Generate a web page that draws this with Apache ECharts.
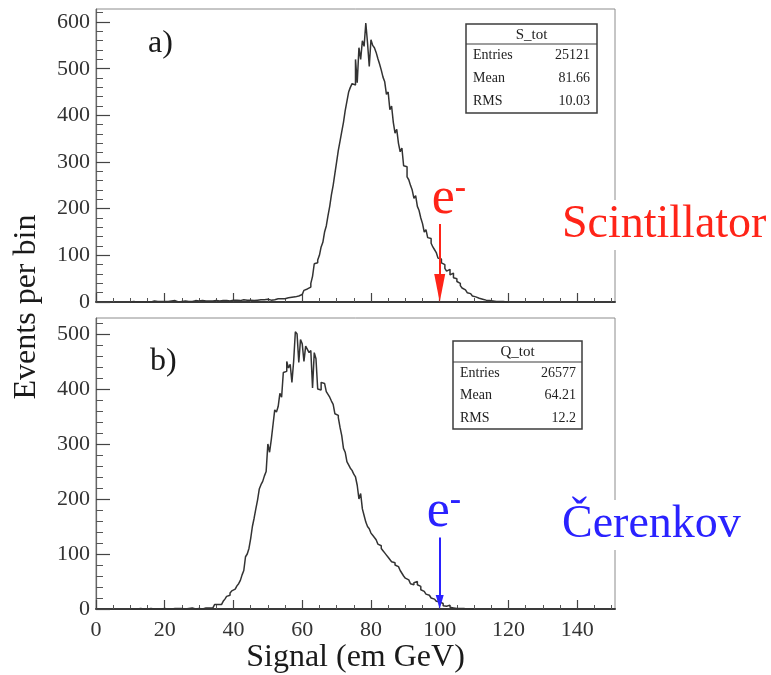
<!DOCTYPE html>
<html>
<head>
<meta charset="utf-8">
<script src="https://cdn.jsdelivr.net/npm/echarts@6/dist/echarts.min.js"></script>
<style>
  html, body { margin: 0; padding: 0; background: #ffffff; }
  #chart { width: 771px; height: 675px; }
</style>
</head>
<body>
<div id="chart"></div>
<script>
// Histogram binning (em GeV)
const BIN_WIDTH = 0.5;

// a) Scintillator signal S_tot, counts per 0.5 GeV bin starting at S_TOT_START
const S_TOT_START = 10;
const S_TOT_COUNTS = [
  0, 1, 0, 0, 1, 0, 2, 0, 1, 0,
  1, 0, 1, 2, 0, 1, 0, 1, 2, 1,
  2, 1, 0, 2, 1, 3, 1, 0, 2, 1,
  1, 2, 3, 1, 2, 1, 2, 3, 1, 2,
  2, 3, 1, 2, 4, 2, 3, 2, 1, 3,
  3, 2, 4, 3, 2, 3, 4, 2, 3, 4,
  3, 4, 2, 3, 4, 5, 3, 4, 2, 4,
  4, 3, 5, 4, 3, 5, 4, 5, 4, 6,
  5, 4, 6, 5, 6, 7, 6, 7, 8, 7,
  8, 9, 8, 10, 9, 11, 12, 13, 14, 16,
  20, 25, 28, 30, 32, 40, 55, 82, 84, 90,
  100, 118, 128, 150, 163, 185, 205, 230, 250, 275,
  300, 325, 345, 365, 385, 410, 430, 450, 460, 468,
  465, 520, 470, 545, 520, 560, 548, 598, 555, 505,
  562, 550, 545, 535, 522, 510, 497, 482, 472, 445,
  450, 412, 420, 385, 362, 370, 340, 322, 330, 292,
  290, 268, 262, 250, 240, 222, 228, 205, 196, 180,
  168, 150, 155, 138, 136, 126, 118, 112, 106, 94,
  92, 84, 80, 72, 66, 70, 58, 62, 52, 50,
  44, 40, 35, 30, 26, 22, 20, 18, 15, 13,
  11, 10, 8, 7, 6, 5, 4, 4, 3, 3,
  2, 2, 1, 1, 1, 0, 1, 0, 0, 0
];

// b) Cerenkov signal Q_tot, counts per 0.5 GeV bin starting at Q_TOT_START
const Q_TOT_START = 10;
const Q_TOT_COUNTS = [
  0, 0, 1, 0, 0, 1, 0, 0, 1, 0,
  0, 1, 0, 0, 1, 0, 1, 0, 2, 1,
  3, 0, 1, 0, 1, 1, 0, 1, 0, 1,
  1, 0, 1, 1, 0, 2, 1, 0, 1, 1,
  1, 0, 1, 2, 1, 2, 3, 2, 4, 8,
  8, 7, 8, 10, 14, 18, 23, 25, 29, 33,
  36, 38, 42, 46, 52, 62, 70, 95, 100, 110,
  128, 150, 165, 182, 198, 218, 226, 232, 242, 250,
  300, 285, 308, 335, 362, 358, 368, 392, 385, 430,
  432, 450, 438, 445, 412, 450, 504, 500, 448, 490,
  482, 450, 478, 472, 466, 470, 402, 466, 455, 400,
  398, 412, 410, 408, 395, 390, 385, 378, 372, 355,
  352, 348, 330, 315, 292, 285, 268, 262, 256, 252,
  245, 240, 225, 200, 210, 182, 170, 158, 150, 146,
  138, 134, 130, 126, 118, 115, 110, 106, 102, 98,
  94, 90, 86, 84, 80, 77, 74, 70, 65, 60,
  56, 53, 50, 46, 44, 48, 50, 44, 41, 35,
  32, 30, 27, 25, 22, 20, 18, 16, 14, 13,
  11, 10, 6, 5, 8, 7, 3, 2, 2, 1,
  1, 1, 0, 1, 0, 0, 0, 0, 0, 0
];

// Axis ranges and ticks
const X_RANGE = [0, 151];
const X_MAJOR_TICKS = [0, 20, 40, 60, 80, 100, 120, 140];
const X_MINOR_TICKS = [5, 10, 15, 25, 30, 35, 45, 50, 55, 65, 70, 75, 85, 90, 95,
                       105, 110, 115, 125, 130, 135, 145, 150];
const S_Y_RANGE = [0, 628];
const S_Y_MAJOR_TICKS = [0, 100, 200, 300, 400, 500, 600];
const S_Y_MINOR_TICKS = [20, 40, 60, 80, 120, 140, 160, 180, 220, 240, 260, 280, 320, 340,
                         360, 380, 420, 440, 460, 480, 520, 540, 560, 580, 620];
const Q_Y_RANGE = [0, 529];
const Q_Y_MAJOR_TICKS = [0, 100, 200, 300, 400, 500];
const Q_Y_MINOR_TICKS = [20, 40, 60, 80, 120, 140, 160, 180, 220, 240, 260, 280, 320, 340,
                         360, 380, 420, 440, 460, 480, 520];

// Electron beam reference signal, arrow extents (events)
const ELECTRON_SIGNAL = 100;
const S_ARROW_Y = [167, 30];
const Q_ARROW_Y = [130, 12.5];

// Statistics boxes
const S_STATS_TITLE = 'S_tot';
const Q_STATS_TITLE = 'Q_tot';
const STATS_LABELS = ['Entries', 'Mean', 'RMS'];
const S_STATS_VALUES = ['25121', '81.66', '10.03'];
const Q_STATS_VALUES = ['26577', '64.21', '12.2'];

const SERIF = '"Liberation Serif", "Times New Roman", "DejaVu Serif", serif';
const RED = '#ff2418';
const BLUE = '#2a22ff';
const HIST_COLOR = '#333333';

function histogramPoints(start, counts) {
  const pts = counts.map((c, i) => [start + i * BIN_WIDTH, c]);
  pts.push([start + counts.length * BIN_WIDTH, 0]);
  return pts;
}

function xAxes(gridIndex, withLabels) {
  return [
    {
      type: 'value', gridIndex, min: X_RANGE[0], max: X_RANGE[1], position: 'bottom',
      axisLine: { show: true, onZero: false, lineStyle: { color: '#3a3a3a', width: 2 } },
      axisTick: { show: true, inside: true, length: 9, customValues: X_MAJOR_TICKS,
                  lineStyle: { color: '#444', width: 1.2 } },
      axisLabel: { show: withLabels, customValues: X_MAJOR_TICKS, margin: 10,
                   color: '#333', fontSize: 22, fontFamily: SERIF },
      splitLine: { show: false },
      name: withLabels ? 'Signal (em GeV)' : '',
      nameLocation: 'middle', nameGap: 33,
      nameTextStyle: { color: '#1a1a1a', fontSize: 32, fontFamily: SERIF, verticalAlign: 'top' }
    },
    {
      type: 'value', gridIndex, min: X_RANGE[0], max: X_RANGE[1], position: 'bottom',
      axisLine: { show: false, onZero: false },
      axisTick: { show: true, inside: true, length: 4, customValues: X_MINOR_TICKS,
                  lineStyle: { color: '#555', width: 1 } },
      axisLabel: { show: false },
      splitLine: { show: false }
    }
  ];
}

function yAxes(gridIndex, range, major, minor) {
  return [
    {
      type: 'value', gridIndex, min: range[0], max: range[1], position: 'left',
      axisLine: { show: true, onZero: false, lineStyle: { color: '#666', width: 1.2 } },
      axisTick: { show: true, inside: true, length: 14, customValues: major,
                  lineStyle: { color: '#444', width: 1.2 } },
      axisLabel: { show: true, customValues: major, margin: 6,
                   color: '#333', fontSize: 22, fontFamily: SERIF },
      splitLine: { show: false }
    },
    {
      type: 'value', gridIndex, min: range[0], max: range[1], position: 'left',
      axisLine: { show: false, onZero: false },
      axisTick: { show: true, inside: true, length: 7, customValues: minor,
                  lineStyle: { color: '#555', width: 1 } },
      axisLabel: { show: false },
      splitLine: { show: false }
    }
  ];
}

function arrowMarkLine(yRange, color, headSize) {
  return {
    silent: true,
    animation: false,
    symbol: ['none', 'triangle'],
    lineStyle: { color, width: 2, type: 'solid' },
    label: { show: false },
    data: [[
      { coord: [ELECTRON_SIGNAL, yRange[0]], symbol: 'none' },
      { coord: [ELECTRON_SIGNAL, yRange[1]], symbol: 'triangle', symbolSize: headSize }
    ]]
  };
}

function statsBox(x, y, w, h, headerH, title, values, valueRight) {
  const rowH = (h - headerH) / 3;
  const children = [
    { type: 'rect', shape: { x, y, width: w, height: h },
      style: { fill: '#fff', stroke: '#3c3c3c', lineWidth: 1.5 } },
    { type: 'line', shape: { x1: x, y1: y + headerH, x2: x + w, y2: y + headerH },
      style: { stroke: '#3c3c3c', lineWidth: 1.2 } },
    { type: 'text', style: { x: x + w / 2, y: y + headerH / 2 + 1, text: title, align: 'center',
      verticalAlign: 'middle', fill: '#222', font: '15px ' + SERIF } }
  ];
  STATS_LABELS.forEach((lab, i) => {
    const cy = y + headerH + rowH * (i + 0.5);
    children.push({ type: 'text', style: { x: x + 7, y: cy, text: lab, align: 'left',
      verticalAlign: 'middle', fill: '#222', font: '14px ' + SERIF } });
    children.push({ type: 'text', style: { x: valueRight, y: cy, text: values[i], align: 'right',
      verticalAlign: 'middle', fill: '#222', font: '14px ' + SERIF } });
  });
  return { type: 'group', silent: true, children };
}

// "e⁻" label sitting above an arrow top, anchored to the arrow's pixel position
function electronLabel(top, color, dx, dy) {
  const baseline = top[1] - dy;
  return {
    type: 'group', silent: true,
    children: [
      { type: 'text', style: { x: top[0] - dx, y: baseline - 17.5, text: 'e', align: 'left',
        verticalAlign: 'middle', fill: color, font: '52px ' + SERIF } },
      { type: 'text', style: { x: top[0] - dx + 23, y: baseline - 28, text: '-', align: 'left',
        verticalAlign: 'middle', fill: color, font: 'bold 34px ' + SERIF } }
    ]
  };
}

const chart = echarts.init(document.getElementById('chart'), null, { renderer: 'canvas' });

chart.setOption({
  animation: false,
  backgroundColor: '#ffffff',
  grid: [
    { left: 96, top: 9, width: 519, height: 293, show: true, borderColor: '#8c8c8c', borderWidth: 1, containLabel: false },
    { left: 96, top: 318, width: 519, height: 295, show: true, borderColor: '#8c8c8c', borderWidth: 1, containLabel: false }
  ],
  xAxis: [...xAxes(0, false), ...xAxes(1, true)],
  yAxis: [...yAxes(0, S_Y_RANGE, S_Y_MAJOR_TICKS, S_Y_MINOR_TICKS),
          ...yAxes(1, Q_Y_RANGE, Q_Y_MAJOR_TICKS, Q_Y_MINOR_TICKS)],
  series: [
    {
      name: S_STATS_TITLE, type: 'line', xAxisIndex: 0, yAxisIndex: 0,
      step: 'end', showSymbol: false, symbol: 'none', silent: true,
      lineStyle: { color: HIST_COLOR, width: 1.5 },
      data: histogramPoints(S_TOT_START, S_TOT_COUNTS),
      markLine: arrowMarkLine(S_ARROW_Y, RED, [11, 28]),
      z: 3
    },
    {
      name: Q_STATS_TITLE, type: 'line', xAxisIndex: 2, yAxisIndex: 2,
      step: 'end', showSymbol: false, symbol: 'none', silent: true,
      lineStyle: { color: HIST_COLOR, width: 1.5 },
      data: histogramPoints(Q_TOT_START, Q_TOT_COUNTS),
      markLine: arrowMarkLine(Q_ARROW_Y, BLUE, [8, 14]),
      z: 3
    }
  ]
});

const sTop = chart.convertToPixel({ xAxisIndex: 0, yAxisIndex: 0 }, [ELECTRON_SIGNAL, S_ARROW_Y[0]]);
const qTop = chart.convertToPixel({ xAxisIndex: 2, yAxisIndex: 2 }, [ELECTRON_SIGNAL, Q_ARROW_Y[0]]);

chart.setOption({
  graphic: [
    { type: 'text', left: 148, top: 28, silent: true,
      style: { text: 'a)', fill: '#1a1a1a', font: '32px ' + SERIF } },
    { type: 'text', left: 150, top: 346, silent: true,
      style: { text: 'b)', fill: '#1a1a1a', font: '32px ' + SERIF } },
    { type: 'text', silent: true, x: 27, y: 307, rotation: Math.PI / 2,
      style: { text: 'Events per bin', align: 'center', verticalAlign: 'middle',
               fill: '#1a1a1a', font: '32px ' + SERIF } },
    { type: 'text', silent: true, x: 562, y: 225,
      style: { text: 'Scintillator', align: 'left', verticalAlign: 'middle', fill: RED,
               font: '46px ' + SERIF, backgroundColor: '#ffffff', padding: [2, 0, 2, 0] } },
    { type: 'text', silent: true, x: 562, y: 525,
      style: { text: '\u010Cerenkov', align: 'left', verticalAlign: 'middle', fill: BLUE,
               font: '46px ' + SERIF, backgroundColor: '#ffffff', padding: [2, 0, 2, 0] } },
    electronLabel(sTop, RED, 8, 7),
    electronLabel(qTop, BLUE, 13, 8),
    statsBox(466, 24, 131, 89, 20, S_STATS_TITLE, S_STATS_VALUES, 590),
    statsBox(453, 341, 129, 88, 21, Q_STATS_TITLE, Q_STATS_VALUES, 576)
  ]
});
</script>
</body>
</html>
